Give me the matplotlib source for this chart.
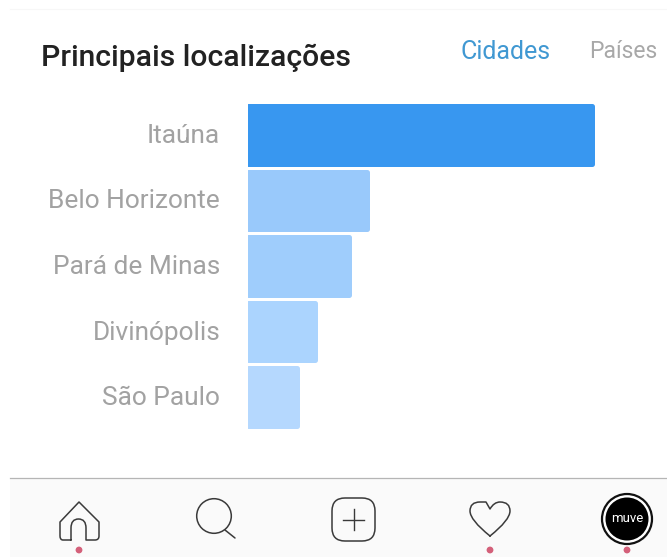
import matplotlib
matplotlib.use("Agg")
import matplotlib.pyplot as plt
from matplotlib.patches import Circle, FancyBboxPatch, PathPatch, Rectangle
from matplotlib.path import Path
from matplotlib.transforms import ScaledTranslation

cities = ["Itaúna", "Belo Horizonte", "Pará de Minas", "Divinópolis", "São Paulo"]
shares = [100, 34.5, 29.3, 19.4, 14.3]
bar_colors = ["#3897f0", "#99c9fb", "#9fcdfc", "#abd4fe", "#b5d8fe"]

W, H = 667, 557
ICON = "#3a3a3a"
DOT = "#d4607a"


def box(x0, y0, x1, y1):
    # pixel box (top-left origin) to figure fractions
    return [x0 / W, 1 - y1 / H, (x1 - x0) / W, (y1 - y0) / H]


def icon_path(ax, verts, codes, **kw):
    ax.add_patch(PathPatch(Path(verts, codes), fill=False, ec=ICON, lw=1.1,
                           capstyle="round", joinstyle="round", **kw))


def main():
    plt.rcParams["font.family"] = ["Roboto", "DejaVu Sans"]
    fig = plt.figure(figsize=(W / 100, H / 100), dpi=100, facecolor="white")

    # overlay in pixel coordinates for the header and the tab bar
    ui = fig.add_axes([0, 0, 1, 1])
    ui.set_xlim(0, W)
    ui.set_ylim(H, 0)
    ui.axis("off")

    ui.plot([10, W], [9, 9], color="#f7f7f7", lw=0.8)
    ui.text(41, 58, "Principais localizações", fontsize=21.7, fontweight="medium",
            color="#222222", va="center", ha="left")
    ui.text(461, 52, "Cidades", fontsize=18, color="#4098d2", va="center", ha="left")
    ui.text(589, 52, "Países", fontsize=16.5, color="#a8a8a8", va="center", ha="left")

    # tab bar
    ui.add_patch(Rectangle((10, 478), W - 10, H - 478, fc="#fafafa", ec="none"))
    ui.plot([10, W], [478, 478], color="#b5b5b5", lw=0.9)

    # home
    M, L, C3 = Path.MOVETO, Path.LINETO, Path.CURVE3
    icon_path(ax=ui,
              verts=[(71, 540), (63, 540), (60, 540), (60, 536), (60, 522), (79, 502),
                     (99, 522), (99, 536), (99, 540), (95, 540), (86, 540), (86, 528),
                     (86, 519), (78.5, 519), (71, 519), (71, 528), (71, 540)],
              codes=[M, L, C3, C3, L, L, L, L, C3, C3, L, L, C3, C3, C3, C3, L])

    # search
    ui.add_patch(Circle((214, 516), 17.3, fill=False, ec=ICON, lw=1.1))
    ui.plot([225, 235], [530, 538], color=ICON, lw=1.1, solid_capstyle="round")

    # new post
    ui.add_patch(FancyBboxPatch((340, 506), 27, 27, boxstyle="round,pad=8,rounding_size=13",
                                fill=False, ec=ICON, lw=1.1))
    ui.plot([343, 364], [519.5, 519.5], color=ICON, lw=1)
    ui.plot([353.5, 353.5], [509, 530], color=ICON, lw=1)

    # heart
    icon_path(ax=ui,
              verts=[(490, 536), (470, 520), (470, 511), (470, 502), (480, 502),
                     (486, 502), (490, 509), (494, 502), (500, 502), (510, 502),
                     (510, 511), (510, 520), (490, 536)],
              codes=[M, C3, C3, C3, C3, L, L, C3, C3, C3, C3, C3, C3])

    # profile picture
    ui.add_patch(Circle((627, 519), 25, fc="white", ec="#111111", lw=1.6))
    ui.add_patch(Circle((627, 519), 21.5, fc="black", ec="none"))
    ui.text(627, 519, "muve", color="white", fontsize=9.5, ha="center", va="center")

    # notification dots
    for x in (79, 490, 627):
        ui.add_patch(Circle((x, 550), 3.4, fc=DOT, ec="none"))

    # bar chart; round-joined edges give the soft bar corners, the axes clip the left side
    ax = fig.add_axes(box(248, 100, 600, 432))
    ax.patch.set_alpha(0)
    ax.barh(range(len(cities)), shares, height=0.885, color=bar_colors,
            edgecolor=bar_colors, linewidth=3.6, joinstyle="round")
    ax.set_xlim(0, 352 / 3.44)
    ax.set_ylim(4.534, -0.534)
    ax.set_xticks([])
    ax.set_yticks(range(len(cities)), cities)
    ax.tick_params(axis="y", length=0, pad=20, labelsize=18.9, labelcolor="#a2a2a2")
    nudge = ScaledTranslation(0, 1.5 / 100, fig.dpi_scale_trans)
    for t in ax.get_yticklabels():
        t.set_verticalalignment("center_baseline")
        t.set_transform(t.get_transform() + nudge)
    for s in ax.spines.values():
        s.set_visible(False)

    fig.savefig("out.png", dpi=100)
    return 0


if __name__ == "__main__":
    main()
